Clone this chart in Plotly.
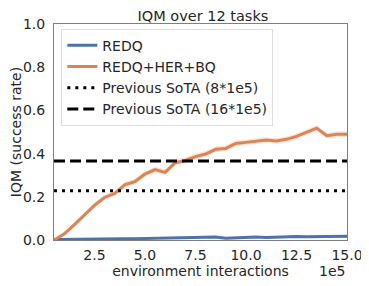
import plotly.graph_objects as go

steps = [0.5, 1.0, 1.5, 2.0, 2.5, 3.0, 3.5, 4.0, 4.5, 5.0,
         5.5, 6.0, 6.5, 7.0, 7.5, 8.0, 8.5, 9.0, 9.5, 10.0,
         10.5, 11.0, 11.5, 12.0, 12.5, 13.0, 13.5, 14.0, 14.5, 15.0]
redq = [0.002, 0.003, 0.003, 0.004, 0.004, 0.005, 0.005, 0.006, 0.006, 0.007,
        0.007, 0.008, 0.008, 0.009, 0.009, 0.010, 0.014, 0.008, 0.011, 0.013,
        0.014, 0.012, 0.014, 0.014, 0.016, 0.015, 0.015, 0.014, 0.016, 0.017]
redq_err = [0.002, 0.002, 0.002, 0.002, 0.002, 0.003, 0.003, 0.003, 0.003, 0.003,
            0.003, 0.003, 0.003, 0.003, 0.003, 0.004, 0.004, 0.004, 0.004, 0.004,
            0.004, 0.004, 0.004, 0.004, 0.004, 0.004, 0.004, 0.004, 0.004, 0.004]
redq_her_bq = [0.0, 0.028, 0.07, 0.114, 0.16, 0.197, 0.215, 0.255, 0.27, 0.305,
               0.326, 0.313, 0.358, 0.368, 0.386, 0.398, 0.42, 0.424, 0.447, 0.452,
               0.458, 0.463, 0.458, 0.466, 0.48, 0.498, 0.518, 0.483, 0.49, 0.49]
redq_her_bq_err = [0.005, 0.008, 0.01, 0.012, 0.012, 0.012, 0.013, 0.013, 0.013, 0.013,
                   0.013, 0.013, 0.014, 0.014, 0.014, 0.014, 0.014, 0.014, 0.014, 0.013,
                   0.013, 0.013, 0.013, 0.013, 0.013, 0.013, 0.013, 0.013, 0.013, 0.013]
sota_8 = 0.228
sota_16 = 0.366

BLUE = "#4C72B0"
ORANGE = "#DD8452"

fig = go.Figure()

def band(y, err, color):
    up = [a + b for a, b in zip(y, err)]
    lo = [a - b for a, b in zip(y, err)]
    fig.add_trace(go.Scatter(x=steps, y=up, mode="lines", line=dict(width=0),
                             showlegend=False, hoverinfo="skip"))
    fig.add_trace(go.Scatter(x=steps, y=lo, mode="lines", line=dict(width=0),
                             fill="tonexty", fillcolor=color, showlegend=False,
                             hoverinfo="skip"))

band(redq, redq_err, "rgba(76,114,176,0.2)")
band(redq_her_bq, redq_her_bq_err, "rgba(221,132,82,0.2)")

fig.add_trace(go.Scatter(x=steps, y=redq, mode="lines", name="REDQ",
                         line=dict(color=BLUE, width=3)))
fig.add_trace(go.Scatter(x=steps, y=redq_her_bq, mode="lines", name="REDQ+HER+BQ",
                         line=dict(color=ORANGE, width=3)))
fig.add_trace(go.Scatter(x=[steps[0], steps[-1]], y=[sota_8, sota_8], mode="lines",
                         name="Previous SoTA (8*1e5)",
                         line=dict(color="black", width=3, dash="3px,5px")))
fig.add_trace(go.Scatter(x=[steps[0], steps[-1]], y=[sota_16, sota_16], mode="lines",
                         name="Previous SoTA (16*1e5)",
                         line=dict(color="black", width=3, dash="11px,5px")))

FONT = "DejaVu Sans"
TXT = "#262626"
# page body has an 8px margin, so the figure is 8px smaller and shifted
fig.update_layout(
    width=361, height=278,
    margin=dict(l=46, r=22, t=16, b=46, autoexpand=False),
    paper_bgcolor="white", plot_bgcolor="white",
    font=dict(family=FONT, size=14, color=TXT),
    title=dict(text="IQM over 12 tasks", x=0.54, xanchor="center", y=0.988,
               yanchor="top", font=dict(size=14.5, color=TXT)),
    showlegend=True,
    legend=dict(x=0.025, y=0.978, xanchor="left", yanchor="top",
                traceorder="normal",
                bgcolor="rgba(255,255,255,0.8)", bordercolor="#dddddd",
                borderwidth=1, font=dict(size=14, family=FONT, color=TXT),
                itemwidth=30, tracegroupgap=0),
)
fig.update_xaxes(range=[0.5, 15.0], tickvals=[2.5, 5.0, 7.5, 10.0, 12.5, 15.0],
                 tickformat=".1f", showgrid=False, zeroline=False, automargin=False,
                 showline=True, linecolor="#7f7f7f", linewidth=1, mirror=True,
                 ticks="", ticklabelstandoff=2,
                 title=dict(text="environment interactions", standoff=2,
                            font=dict(size=14)))
fig.update_yaxes(range=[0, 1.0], tickvals=[0, 0.2, 0.4, 0.6, 0.8, 1.0],
                 tickformat=".1f", showgrid=False, zeroline=False, automargin=False,
                 showline=True, linecolor="#7f7f7f", linewidth=1, mirror=True,
                 ticks="", ticklabelstandoff=5,
                 title=dict(text="IQM (success rate)", standoff=4,
                            font=dict(size=14)))
fig.add_annotation(text="1e5", xref="paper", yref="paper", x=1.0, y=-0.1435,
                   xanchor="right", yanchor="middle", showarrow=False,
                   font=dict(size=14, family=FONT, color=TXT))

fig.write_html("out.html")
